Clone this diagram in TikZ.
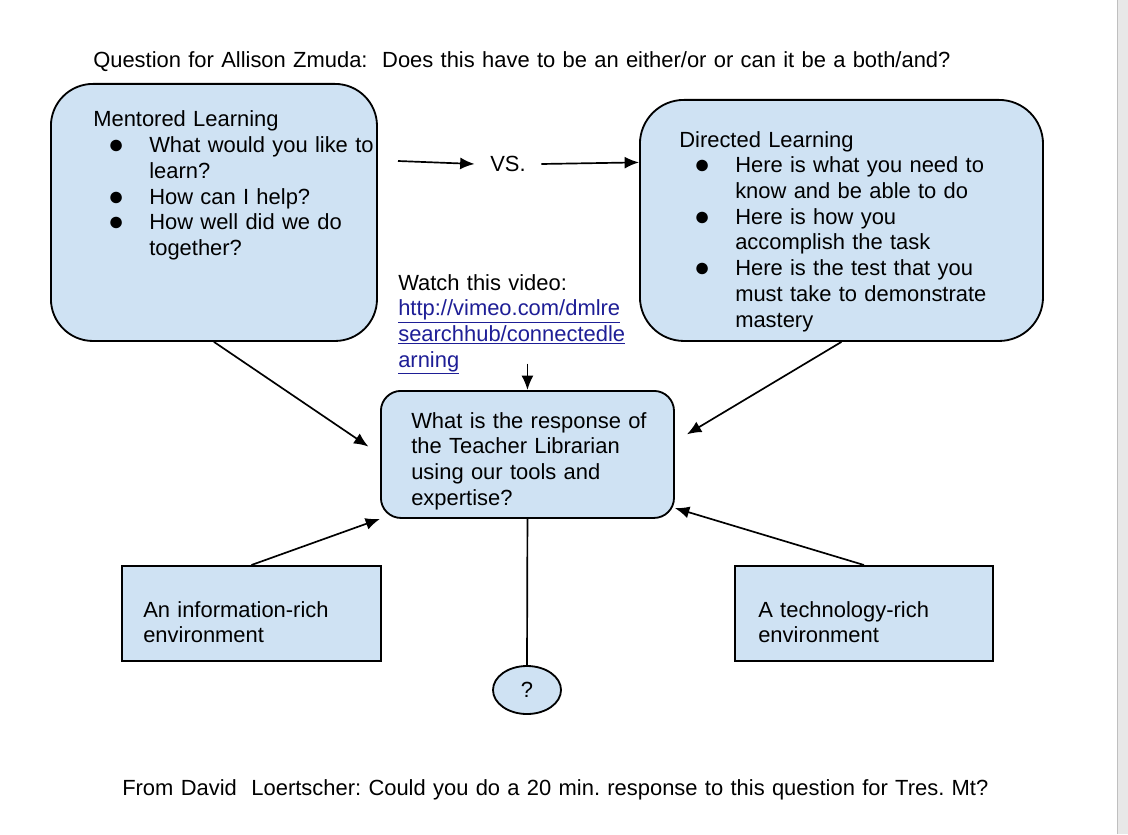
\documentclass[tikz,border=0pt]{standalone}
\usepackage{fontspec}
\setmainfont{Liberation Sans}
\usepackage{tikz}
\usetikzlibrary{arrows.meta,positioning}
\usetikzlibrary{shapes.geometric}
\definecolor{boxblue}{RGB}{207,226,243}
\definecolor{linkblue}{RGB}{30,30,150}
\tikzset{
 >={Latex[length=3.6mm,width=3mm]},
 box/.style={draw,line width=1.3pt,fill=boxblue,anchor=north west,inner sep=0pt},
 txt/.style={anchor=base west,inner sep=0pt,align=left,text width=#1,
   font=\fontsize{15.6}{18.3}\selectfont},
 txt/.default=9cm,
 conn/.style={line width=1.2pt}
}
\frenchspacing
\newcommand{\bul}{\makebox[39.8pt][l]{\hspace{10.5pt}\raisebox{-0.6pt}{\fontsize{19}{0}\selectfont ●}}}
\newcommand{\ind}{\hspace*{39.8pt}}
\newcommand{\lnk}[1]{\textcolor{linkblue}{\underline{#1}}}

\begin{document}
\begin{tikzpicture}[x=0.025cm,y=-0.025cm]
\useasboundingbox (0,0) rectangle (1128,834);
\fill[white] (0,0) rectangle (1128,834);
\fill[black!9] (1117,0) rectangle (1128,834);
\draw[black!25] (1117,0) -- (1117,834);
%\foreach \d in {0,4,8} \draw[black!40] (1108+\d,832) -- (1126,814+\d);

\path (93,68) node[txt=26cm,name=ask] {Question for Allison Zmuda:\ \ Does this have to be an either/or or can it be a both/and?};

% the two kinds of learning
\path (50,83) node[box,rounded corners=1.05cm,minimum width=8.15cm,minimum height=6.425cm,name=ment] {};
\path (639,99) node[box,rounded corners=1.1cm,minimum width=10.075cm,minimum height=6.025cm,name=dir] {};
\path (93,127) node[txt,name=menttxt] {Mentored Learning\\
 \bul What would you like to\\ \ind learn?\\
 \bul How can I help?\\
 \bul How well did we do\\ \ind together?};
\path (679,147) node[txt,name=dirtxt] {Directed Learning\\
 \bul Here is what you need to\\ \ind know and be able to do\\
 \bul Here is how you\\ \ind accomplish the task\\
 \bul Here is the test that you\\ \ind must take to demonstrate\\ \ind mastery};

\path (508,164) node[font=\fontsize{15.6}{18.3}\selectfont,inner xsep=11pt,name=vs] {VS.};
\coordinate (vsin) at (398,161);

\path (398,290) node[txt=6cm,name=video] {Watch this video:\\
 \lnk{http://vimeo.com/dmlre}\\ \lnk{searchhub/connectedle}\\ \lnk{arning}};

% centre question and what feeds it
\path (380,390) node[box,rounded corners=0.5cm,minimum width=7.325cm,minimum height=3.175cm,name=ctr] {};
\path (411,428) node[txt,name=ctrtxt] {What is the response of\\ the Teacher Librarian\\ using our tools and\\ expertise?};

\path (121,565) node[box,minimum width=6.475cm,minimum height=2.375cm,name=info] {};
\path (734,565) node[box,minimum width=6.45cm,minimum height=2.375cm,name=tech] {};
\path (143,617) node[txt,name=infotxt] {An information-rich\\ environment};
\path (758,617) node[txt,name=techtxt] {A technology-rich\\ environment};

\path (527,690) node[draw,line width=1.3pt,fill=boxblue,ellipse,minimum width=1.7cm,minimum height=1.2cm,inner sep=0pt,
  font=\fontsize{15.6}{18.3}\selectfont,name=q] {?};

\path (122,795) node[txt=26cm,name=note] {From David\ \ Loertscher: Could you do a 20 min. response to this question for Tres. Mt?};

\path[->,conn] (vsin) edge (vs.west);
\path[->,conn] (vs.east) edge (dir.164);
\path[->,conn] ([yshift=8pt]video.south -| ctr.north) edge (ctr.north);
\path[->,conn] (ment.south) edge[shorten >=0.35cm] (ctr.west);
\path[->,conn] (dir.south) edge[shorten >=0.35cm] (ctr.5);
\path[->,conn] (info.north) edge (ctr.south west);
\path[->,conn] (tech.north) edge (ctr.-20);
\path[-,conn] (ctr.south) edge (q.north);
\end{tikzpicture}
\end{document}
